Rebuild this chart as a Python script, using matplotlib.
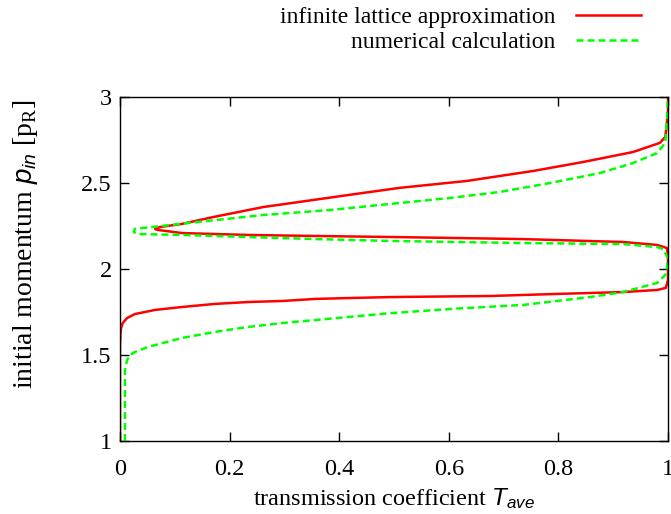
import matplotlib
matplotlib.use("Agg")
import matplotlib.pyplot as plt
from matplotlib.ticker import FormatStrFormatter

# Momentum p_in [p_R] and transmission T_ave
p_lattice = [1.0, 1.558, 1.628, 1.657, 1.686, 1.715, 1.738, 1.762, 1.779, 1.797,
             1.808, 1.814, 1.826, 1.831, 1.837, 1.843, 1.855, 1.866, 1.878, 1.890,
             1.936, 2.081, 2.122, 2.140, 2.157, 2.174, 2.186, 2.192, 2.198, 2.209,
             2.227, 2.233, 2.244, 2.262, 2.302, 2.360, 2.401, 2.442, 2.472, 2.512,
             2.570, 2.622, 2.680, 2.733, 2.767, 2.849, 2.924, 3.0]
T_lattice = [0.0, 0.0, 0.001, 0.002, 0.005, 0.013, 0.027, 0.064, 0.113, 0.173,
             0.234, 0.296, 0.356, 0.416, 0.496, 0.675, 0.797, 0.918, 0.980, 0.996,
             1.0, 1.0, 0.998, 0.980, 0.918, 0.735, 0.496, 0.356, 0.234, 0.113,
             0.069, 0.064, 0.073, 0.113, 0.170, 0.261, 0.352, 0.443, 0.511, 0.633,
             0.754, 0.845, 0.936, 0.985, 0.995, 0.998, 1.0, 1.0]

p_numeric = [1.0, 1.413, 1.471, 1.5, 1.517, 1.547, 1.599, 1.634, 1.663, 1.686,
             1.703, 1.721, 1.744, 1.770, 1.791, 1.837, 1.866, 1.919, 1.965, 2.006,
             2.064, 2.116, 2.128, 2.145, 2.151, 2.163, 2.174, 2.186, 2.198, 2.203,
             2.215, 2.233, 2.273, 2.314, 2.343, 2.384, 2.413, 2.448, 2.5, 2.558,
             2.616, 2.674, 2.733, 2.866, 3.0]
T_numeric = [0.009, 0.009, 0.013, 0.018, 0.027, 0.051, 0.113, 0.173, 0.234, 0.296,
             0.356, 0.416, 0.496, 0.615, 0.735, 0.858, 0.918, 0.980, 0.995, 0.998,
             1.0, 0.991, 0.980, 0.918, 0.735, 0.496, 0.356, 0.234, 0.113, 0.033,
             0.025, 0.027, 0.141, 0.261, 0.383, 0.511, 0.602, 0.693, 0.785, 0.876,
             0.936, 0.980, 0.995, 0.998, 1.0]

x_ticks = [0, 0.2, 0.4, 0.6, 0.8, 1]
y_ticks = [1, 1.5, 2, 2.5, 3]

plt.rcParams['font.family'] = ['Liberation Serif', 'DejaVu Serif']
plt.rcParams['mathtext.fontset'] = 'custom'
plt.rcParams['mathtext.it'] = 'Liberation Sans:italic'
plt.rcParams['mathtext.rm'] = 'Liberation Serif'

fig = plt.figure(figsize=(6.71, 5.14), dpi=100)
ax = fig.add_axes([120/671, 73/514, 548/671, 344/514])

ax.plot(T_lattice, p_lattice, color='#ff0000', lw=1.8,
        label='infinite lattice approximation')
ax.plot(T_numeric, p_numeric, color='#00ff00', lw=1.8, dashes=(2.8, 1.6),
        label='numerical calculation')

ax.set_xlim(0, 1)
ax.set_ylim(1, 3)
ax.set_xticks(x_ticks)
ax.set_yticks(y_ticks)
ax.xaxis.set_major_formatter(FormatStrFormatter('%g'))
ax.yaxis.set_major_formatter(FormatStrFormatter('%g'))
ax.tick_params(direction='in', top=True, right=True, length=6.5, width=1.0,
               labelsize=17.5)
ax.tick_params(axis='x', pad=13)
ax.tick_params(axis='y', pad=6)
for s in ax.spines.values():
    s.set_linewidth(1.0)

ax.set_xlabel('transmission coefficient $T_{ave}$', fontsize=17.5, labelpad=4)
ax.set_ylabel('initial momentum $p_{in}$ [p$_\\mathrm{R}$]', fontsize=20)
ax.yaxis.set_label_coords(-0.146, 0.573)

fig.legend(loc='upper right', bbox_to_anchor=(650/671, 1.005), frameon=False,
           markerfirst=False, handlelength=2.75, handletextpad=0.85,
           labelspacing=0.15, borderaxespad=0.0, fontsize=17)

fig.savefig('out.png', dpi=100)
